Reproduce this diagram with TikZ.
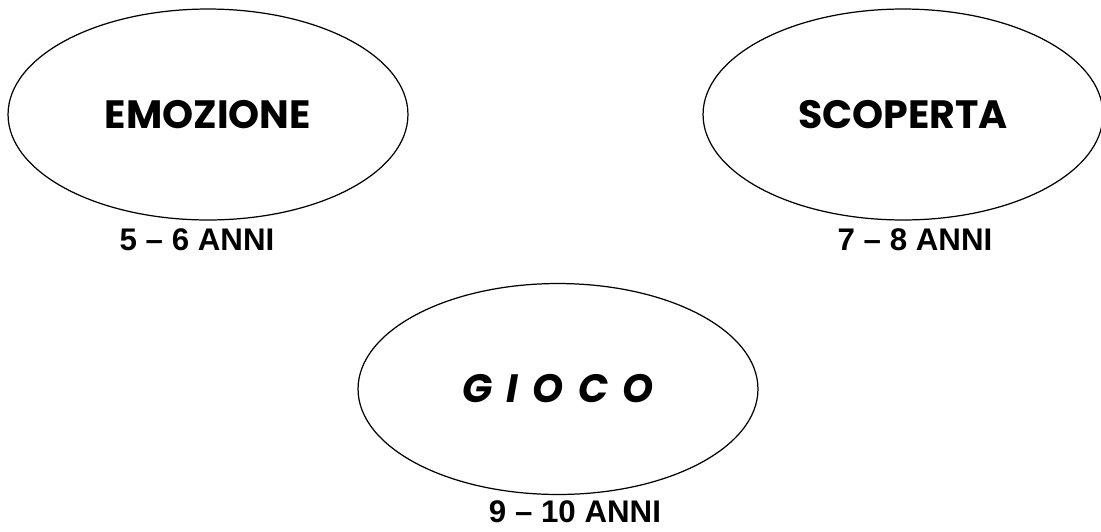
\documentclass[tikz,border=0pt]{standalone}
\usepackage{fontspec}
\usepackage{tikz}
\usetikzlibrary{shapes.geometric}
\setmainfont{Liberation Sans}
\newfontfamily\comicfont{Poppins}

\tikzset{
  bubble/.style={draw, ellipse, line width=0.7pt, inner sep=0pt,
    minimum width=8cm, minimum height=4.22cm,
    font=\comicfont\bfseries\fontsize{22.5}{26}\selectfont},
  age/.style={font=\bfseries\fontsize{17.8}{21}\selectfont, inner sep=0pt}
}
\newcommand{\gap}{\hspace{3pt}}

\begin{document}
\begin{tikzpicture}[x=0.02cm, y=-0.02cm]
\useasboundingbox (0,0) rectangle (1101,531);
\node[bubble] (emo) at (208,114.5) {EMOZIONE};
\node[bubble] (sco) at (903,114.5) {SCOPERTA};
\node[bubble] (gio) at (558,389) {\itshape G\gap{} I\gap{} O\gap{} C\gap{} O};
\node[age] (emoage) at (197,240) {5 -- 6 ANNI};
\node[age] (scoage) at (915,240) {7 -- 8 ANNI};
\node[age] (gioage) at (575,512) {9 -- 10 ANNI};
\end{tikzpicture}
\end{document}
